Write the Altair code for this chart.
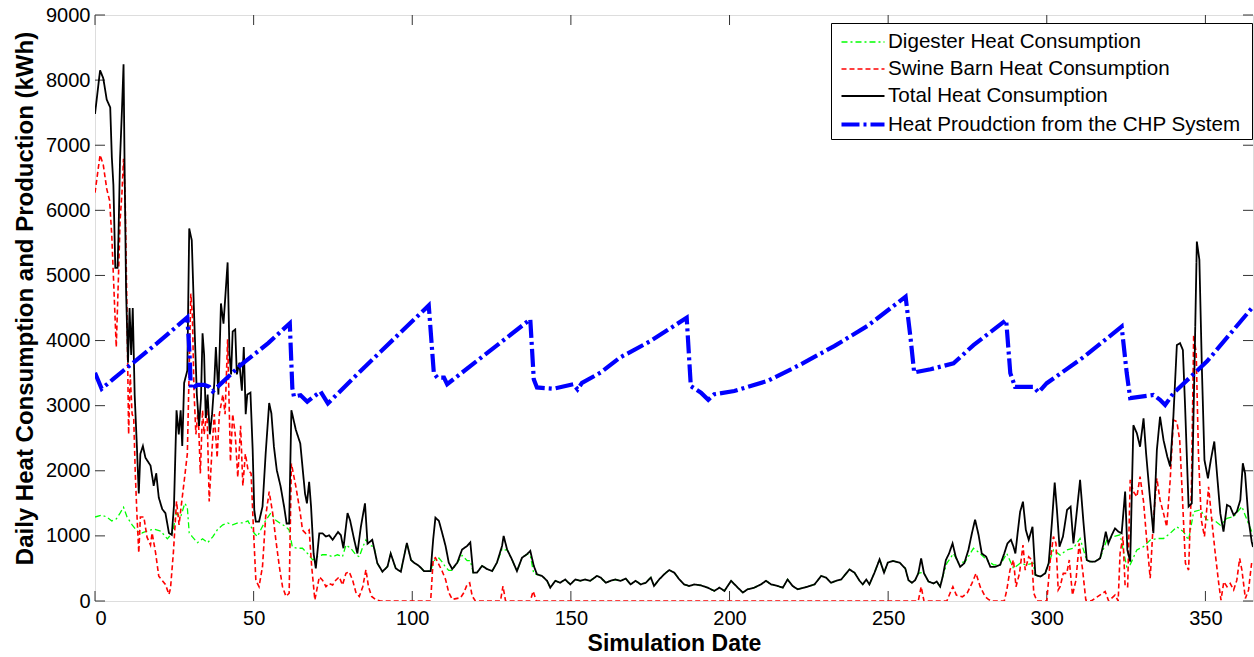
import altair as alt
import pandas as pd

# ---------------- data ----------------
total_days = [0, 1.6, 2.6, 3.7, 4.8, 5.3, 5.8, 6.4, 7.1, 7.4, 7.9, 8.5, 9.0, 9.3, 9.8, 10.4, 10.9, 11.4, 11.9, 12.5,
              13.2, 13.8, 14.3, 15.1, 15.9, 17.5, 18.5, 19.3, 20.1, 21.2, 22.2, 23.3, 24.2, 24.9, 25.7, 26.4, 27.0,
              27.5, 28.1, 29.1, 29.7, 30.5, 31.2, 32.1, 32.8, 33.4, 33.9, 34.4, 34.9, 35.5, 36.2, 36.9, 37.6, 38.1,
              38.9, 39.7, 40.5, 41.1, 41.8, 42.4, 42.9, 43.4, 44.2, 44.7, 45.5, 46.3, 46.9, 47.5, 48.0, 49.0,
              49.7, 50.2, 50.7, 51.7, 52.8, 53.8, 54.9, 55.6, 56.4, 57.3, 58.5, 59.6, 60.4, 61.2, 61.9, 63.3, 64.7,
              65.4, 66.2, 66.8, 67.5, 68.1, 68.9, 69.6, 70.7, 71.7, 72.8, 73.8, 74.9, 75.9, 76.6, 77.5, 78.3, 79.6,
              80.4, 81.7, 82.7, 83.8, 85.1, 85.9, 87.4, 89.0, 90.6, 92.2, 93.2, 94.8, 96.4, 98.3, 99.6,
              100.5, 102.1, 103.7, 105.8, 106.6, 107.3, 108.4, 109.4, 110.5, 111.5, 112.6, 114.2, 115.7, 117.3,
              118.3, 119.2, 120.4, 122.0, 123.6, 125.2, 126.7, 128.3, 128.8, 129.9, 131.4, 133.0, 134.6, 136.2,
              137.2, 138.3, 139.3, 140.9, 142.5, 143.5, 145.1, 146.6, 148.2, 149.8, 151.4, 153.0, 154.5, 156.1,
              158.2, 159.4, 161.0, 162.5, 164.1, 165.7, 167.3, 168.8, 170.4, 172.0, 173.6, 175.2, 176.2, 177.8,
              179.4, 181.0, 182.6, 184.2, 185.7, 187.3, 188.9, 191.0, 193.1, 195.2, 196.8, 198.4, 200.5, 202.6,
              204.2, 205.7, 207.8, 209.9, 211.5, 213.1, 215.2, 216.8, 218.3, 219.9, 221.5, 223.6, 225.2, 226.8,
              228.9, 230.4, 232.0, 233.6, 235.2, 237.8, 239.4, 241.0, 242.0, 243.1, 244.1, 245.7, 247.3, 248.7,
              249.9, 251.5, 253.6, 255.4, 256.4, 257.5, 258.5, 259.5, 260.4, 261.3, 262.7, 264.3, 265.3, 266.4,
              267.2, 268.2, 269.2, 270.3, 271.3, 272.7, 274.0, 275.3, 276.4, 277.4, 278.5, 279.5, 280.9, 282.2,
              283.7, 285.3, 286.6, 287.6, 288.7, 289.5, 290.1, 290.8, 291.6, 292.5, 293.4, 294.3, 295.5, 296.4,
              298.0, 299.5, 300.6, 301.6, 302.5, 303.2, 304.0, 305.1, 306.4, 307.5, 308.4, 309.4, 310.5, 311.5,
              312.6, 313.6, 315.2, 316.8, 317.8, 318.6, 319.4, 320.5, 321.5, 322.6, 323.6, 324.7, 325.4, 326.3,
              327.3, 328.4, 329.4, 330.5, 331.3, 332.4, 333.6, 334.7, 335.7, 336.8, 338.0, 338.9, 339.9, 341.0,
              342.0, 342.9, 343.6, 344.7, 345.7, 346.6, 347.3, 348.1, 348.9, 349.7, 350.8, 351.7, 352.8, 353.6,
              354.7, 355.7, 356.8, 357.8, 358.9, 359.9, 361.0, 361.8, 362.5, 363.6, 364.6, 365]
total_vals = [7480, 8150, 8030, 7700, 7580, 6820, 6390, 5115, 5115, 5600, 6800, 7545, 8245, 6800, 4750, 3660, 4500,
              3780, 4500, 3170, 2380, 1650, 2260, 2380, 2200, 2080, 1770, 1960, 1590, 1410, 1350, 1045, 1015, 1470,
              2930, 2560, 2930, 2380, 3350, 3540, 5720, 5540, 4450, 3170, 2690, 3110, 4110, 3780, 2810, 3170, 2560,
              2870, 3350, 3900, 3170, 4570, 4260, 4690, 5200, 3780, 3480, 4140, 4170, 3480, 3660, 3230, 3900, 2870,
              3170, 3200,
              2320, 1400, 1220, 1220, 1450, 2270, 3040, 2880, 2370, 2010, 1760, 1450, 1190, 1190, 2930, 2630, 2420,
              2060, 1650, 1500, 1830, 1450, 730, 500, 1040, 1040, 990, 1010, 940, 1010, 1060, 1010, 810, 1350,
              1240, 940, 730, 1140, 1500, 880, 940, 580, 450, 530, 730, 500, 450, 890, 630,
              590, 540, 460, 460, 950, 1280, 1230, 1050, 845, 590, 490, 590, 790, 845,
              900, 435, 435, 540, 490, 460, 590, 845, 1000, 790, 640, 460, 665, 720,
              770, 540, 410, 385, 310, 205, 310, 280, 330, 255, 330, 310, 330, 310,
              385, 360, 280, 310, 330, 310, 345, 255, 310, 255, 280, 360, 230, 330,
              410, 475, 435, 330, 255, 230, 255, 240, 205, 155, 205, 155, 310, 205,
              130, 180, 205, 255, 310, 255, 230, 205, 330, 230, 180, 205, 230, 255,
              385, 360, 280, 310, 330, 485, 435, 310, 255, 330, 255, 435, 640, 435,
              590, 615, 590, 500, 320, 280, 320, 425, 655, 425, 300, 270, 300, 220,
              375, 630, 730, 885, 680, 525, 580, 785, 1040, 1250, 1015, 730, 680, 525,
              525, 555, 730, 885, 940, 835, 730, 1040, 1370, 1525, 1090, 940, 1140, 400,
              375, 425, 580, 1195, 1820, 1400, 835, 990, 1400, 1450, 885, 1345, 1860, 1245,
              630, 605, 605, 655, 860, 1065, 885, 1015, 1115, 1065, 1040, 1680, 785, 605,
              2700, 2575, 2370, 2805, 2270, 1655, 1040, 2320, 2830, 2470, 2215, 2065, 2830, 3930,
              3960, 3855, 2985, 1450, 1500, 3700, 5520, 5240, 3550, 2165, 1885, 2165, 2450, 1985,
              1345, 1065, 1475, 1450, 1320, 1370, 1550, 2115, 1960, 1245, 910, 830]

swine_days = [0, 1.6, 2.6, 3.7, 4.6, 5.3, 6.0, 6.7, 7.4, 7.9, 8.5, 9.0, 9.5, 10.1, 10.6, 11.1, 11.7, 12.2, 12.7,
              13.2, 13.8, 14.3, 15.4, 16.4, 17.5, 18.0, 19.1, 20.1, 21.2, 22.2, 23.3, 23.8, 24.7, 25.7, 26.5, 27.2,
              28.1, 29.1, 30.2, 30.7, 31.2, 31.8, 32.5, 33.2, 33.9, 34.4, 35.3, 36.0, 36.8, 37.6, 38.5, 39.2, 40.3,
              41.0, 41.8, 42.7, 43.4, 44.2, 45.0, 45.9, 46.6, 47.4, 48.2, 49.2, 50.0, 50.7, 51.7, 52.8, 53.8, 54.9,
              56.0, 57.0, 58.1, 59.1, 60.2, 61.2, 61.9, 63.3, 64.7, 65.4, 66.4, 67.5, 68.3, 69.3, 70.7, 71.7, 72.8,
              73.8, 74.9, 75.9, 77.0, 78.0, 79.1, 80.1, 81.2, 82.3, 83.3, 84.4, 85.4, 86.2, 87.2, 88.6, 90, 105.8,
              106.6, 107.3, 108.4, 109.4, 110.5, 111.5, 112.6, 115.2, 116.3, 117.3, 118.1, 118.9, 119.9, 127.8,
              128.6, 129.4, 137.2, 138.1, 139.1, 259.5, 260.4, 261.3, 268.5, 269.5, 270.4, 271.5, 273.4, 274.9,
              276.4, 277.7, 279.0, 280.6, 281.6, 282.5, 286.6, 287.4, 288.4, 289.5, 290.3, 291.4, 292.5, 293.2,
              294.3, 295.3, 295.9, 296.9, 300.0, 301.1, 302.1, 302.9, 303.6, 304.2, 305.2, 306.3, 307.1, 308.1,
              309.2, 310.2, 311.3, 312.3, 314, 318.4, 319.5, 321.5, 322.5, 323.1, 324.0, 324.7, 325.5, 326.3,
              327.3, 328.4, 329.4, 330.5, 331.5, 332.6, 333.6, 334.7, 335.7, 336.8, 337.8, 338.9, 339.9, 341.0,
              341.9, 342.6, 343.7, 344.7, 345.6, 346.3, 347.1, 347.8, 348.7, 349.7, 351.0, 352.0, 353.1, 354.2,
              354.9, 355.8, 356.8, 357.8, 358.9, 359.9, 360.8, 361.5, 362.6, 363.6, 364.6]
swine_vals = [6270, 6850, 6700, 6330, 6150, 5600, 4750, 3900, 4990, 5840, 6270, 6790, 6210, 4390, 2560, 3480, 2870,
              2810, 1960, 1350, 740, 1290, 1290, 980, 860, 1045, 740, 380, 315, 255, 100, 195, 740, 1530, 1170, 1470,
              1835, 2260, 4720, 4390, 3230, 2560, 2930, 1960, 2930, 2560, 2930, 1530, 2260, 2870, 2200, 2870, 3170,
              2870, 4020, 2140, 2870, 2560, 1900, 2690, 1770, 2260, 2020, 1960, 1040, 320, 220, 530, 1300, 1680,
              1350, 940, 530, 220, 70, 120, 2110, 1760, 1350, 1090, 1040, 1090, 530, 15, 370, 320, 220,
              270, 245, 320, 370, 245, 425, 450, 320, 120, 70, 220, 480, 220, 70, 15, 0, 0,
              640, 665, 560, 460, 330, 130, 25, 50, 130, 255, 280, 75, 0, 0,
              230, 0, 0, 150, 0, 0, 220, 0, 0, 120, 220, 90, 65, 120,
              270, 425, 220, 65, 25, 0, 0, 170, 475, 630, 220, 425, 860, 475,
              680, 630, 120, 0, 0, 630, 990, 885, 170, 220, 425, 425, 630, 90,
              320, 885, 475, 15, 0, 145, 0, 90, 0, 730, 990, 220, 220, 1860,
              1680, 1600, 1910, 1525, 935, 350, 1245, 1885, 1550, 1345, 1140, 1860, 2780, 2755,
              2470, 1755, 580, 475, 1755, 4085, 3805, 2270, 1245, 990, 1755, 1245, 730, 270,
              15, 295, 220, 270, 170, 320, 655, 475, 40, 170, 600]

digester_days = [0, 2.1, 3.7, 5.3, 6.7, 7.9, 9.0, 10.1, 11.7, 13.2, 14.8, 16.4, 18.5, 20.7, 22.8, 24.4, 25.7, 27.0,
                 28.3, 29.1, 29.7, 30.7, 32.3, 33.9, 35.5, 37.1, 38.7, 40.3, 41.8, 43.4, 45.0, 46.6, 48.2, 49.2,
                 50.2, 51.2, 52.2, 53.8, 55.4, 57.0, 58.5, 60.2, 61.2, 62.2, 63.8, 65.4, 67.0, 68.6, 70.1, 71.7,
                 73.3, 74.9, 76.4, 78.0, 79.1, 80.6, 82.2, 83.3, 84.4, 85.4, 86.5, 88.0, 89.0, 90.6, 92.2, 93.2,
                 94.8, 96.4, 98.3, 99.6, 100.5, 102.1, 103.7, 105.8, 106.6, 107.3, 108.4, 109.4, 110.5, 111.5,
                 112.6, 114.2, 115.7, 117.3, 118.3, 119.2, 120.4, 122.0, 123.6, 125.2, 126.7, 128.3, 128.8, 129.9,
                 131.4, 133.0, 134.6, 136.2, 137.2, 138.3, 139.3, 140.9, 142.5, 143.5, 145.1, 146.6, 148.2, 149.8,
                 151.4, 153.0, 154.5, 156.1, 158.2, 159.4, 161.0, 162.5, 164.1, 165.7, 167.3, 168.8, 170.4, 172.0,
                 173.6, 175.2, 176.2, 177.8, 179.4, 181.0, 182.6, 184.2, 185.7, 187.3, 188.9, 191.0, 193.1, 195.2,
                 196.8, 198.4, 200.5, 202.6, 204.2, 205.7, 207.8, 209.9, 211.5, 213.1, 215.2, 216.8, 218.3, 219.9,
                 221.5, 223.6, 225.2, 226.8, 228.9, 230.4, 232.0, 233.6, 235.2, 237.8, 239.4, 241.0, 242.0, 243.1,
                 244.1, 245.7, 247.3, 248.7, 249.9, 251.5, 253.6, 255.4, 256.4, 257.5, 258.5, 259.5, 260.4, 261.3,
                 262.7, 264.3, 265.3, 266.4, 267.2, 268.5, 270.6, 272.2, 274.3, 276.9, 279.0, 281.1, 283.2, 285.3,
                 287.4, 289.5, 291.6, 293.6, 295.7, 296.4, 298.0, 299.5, 300.6, 302.1, 304.2, 306.3, 308.4, 310.5,
                 312.6, 314.7, 316.8, 318.9, 321.0, 323.1, 325.2, 326.3, 328.4, 330.5, 332.6, 334.7, 336.8, 338.9,
                 341.0, 343.1, 344.7, 346.3, 348.4, 350.5, 352.6, 354.7, 356.8, 358.9, 361.5, 363.1, 364.6]
digester_vals = [1290, 1320, 1290, 1230, 1260, 1350, 1440, 1290, 1170, 1075, 1045, 1075, 1105, 1075, 955, 1045, 1350,
                 1290, 1500, 1440, 1045, 985, 895, 955, 895, 985, 1105, 1170, 1200, 1170, 1200, 1200, 1230, 1140,
                 1040, 990, 1090, 1240, 1350, 1240, 1190, 1140, 1090, 830, 810, 810, 730, 630, 680, 710,
                 710, 680, 710, 680, 860, 810, 710, 680, 830, 940, 860, 830, 580, 450, 530, 730,
                 500, 450, 890, 630, 590, 540, 460, 460, 600, 640, 660, 600, 520, 470,
                 470, 590, 700, 620, 620, 435, 435, 540, 490, 460, 590, 800, 780, 790,
                 640, 460, 665, 720, 700, 420, 410, 385, 310, 205, 310, 280, 330, 255,
                 330, 310, 330, 310, 385, 360, 280, 310, 330, 310, 345, 255, 310, 255,
                 280, 360, 230, 330, 410, 475, 435, 330, 255, 230, 255, 240, 205, 155,
                 205, 155, 310, 205, 130, 180, 205, 255, 310, 255, 230, 205, 330, 230,
                 180, 205, 230, 255, 385, 360, 280, 310, 330, 485, 435, 310, 255, 330,
                 255, 435, 640, 435, 590, 615, 590, 500, 320, 280, 320, 425, 435, 425,
                 300, 270, 300, 220, 375, 580, 730, 580, 605, 810, 730, 630, 555, 555,
                 730, 500, 580, 555, 580, 400, 375, 425, 580, 785, 705, 785, 810, 960,
                 620, 600, 655, 935, 990, 1015, 525, 560, 785, 835, 935, 960, 960, 1040,
                 1140, 1065, 935, 1370, 1400, 1245, 1245, 1165, 1270, 1295, 1450, 1245, 1065]

chp_days = [0, 2.1, 5.8, 9, 19.6, 29.1, 29.8, 30.2, 32.3, 34.4, 36.0, 37.1, 46.1, 54.6, 61.4, 62.2, 62.7, 64.8,
            66.9, 69.0, 71.1, 73.4, 83.8, 90, 99, 105.2, 106.8, 107.9, 110, 111, 120, 130, 137.2, 138.3, 139.3,
            144.6, 150.8, 152.1, 153.5, 159.4, 165.5, 175, 186.5, 187.8, 191, 193.3, 195.2, 201.5, 212, 222.5,
            233, 243.5, 255.5, 257.1, 258.2, 263.4, 270.6, 276.9, 287.2, 288.5, 290, 295.8, 297.4, 300, 312,
            323.6, 325.2, 326.3, 333.6, 335.7, 337.3, 339.9, 350.5, 365]
chp_vals = [3505, 3260, 3410, 3540, 3960, 4356, 3800, 3260, 3320, 3320, 3290, 3220, 3630, 3960, 4265, 3270, 3140,
            3160, 3060, 3140, 3215, 3035, 3537, 3828, 4250, 4540, 3500, 3430, 3430, 3330, 3672, 4052, 4326, 3405,
            3280, 3260, 3330, 3250, 3350, 3510, 3740, 3990, 4350, 3300, 3200, 3090, 3175, 3225, 3380, 3635,
            3915, 4225, 4675, 4020, 3510, 3560, 3650, 3930, 4315, 3500, 3290, 3290, 3205, 3345, 3760,
            4215, 3500, 3115, 3165, 3090, 3010, 3190, 3680, 4520]

series_names = ["Digester Heat Consumption", "Swine Barn Heat Consumption",
                "Total Heat Consumption", "Heat Proudction from the CHP System"]
series_colors = ["#00ff00", "#ff0000", "#000000", "#0000ff"]
series_dash = [[6, 3, 2, 3], [5, 3], [1, 0], [18, 4, 3, 4]]
series_width = [1.3, 1.6, 1.8, 4.2]

x_ticks = [0, 50, 100, 150, 200, 250, 300, 350]
y_ticks = [0, 1000, 2000, 3000, 4000, 5000, 6000, 7000, 8000, 9000]

# ---------------- build table ----------------
frames = []
for name, d, v in [(series_names[0], digester_days, digester_vals),
                   (series_names[1], swine_days, swine_vals),
                   (series_names[2], total_days, total_vals),
                   (series_names[3], chp_days, chp_vals)]:
    frames.append(pd.DataFrame({"day": d, "value": v, "series": name}))
df = pd.concat(frames, ignore_index=True)

W, H = 1158, 586
FONT = "Liberation Sans"

xs = alt.Scale(domain=[0, 365], nice=False, zero=False)
ys = alt.Scale(domain=[0, 9000], nice=False)

base = alt.Chart(df).mark_line(clip=True, strokeCap="butt", strokeJoin="miter").encode(
    x=alt.X("day:Q", scale=xs,
            axis=alt.Axis(values=x_ticks, title="Simulation Date", grid=False, ticks=False,
                          domain=False, labelFontSize=20, labelPadding=7, format="d",
                          titleFontSize=23, titleFontWeight="bold", titlePadding=4,
                          labelColor="#000", titleColor="#000", labelFont=FONT, titleFont=FONT)),
    y=alt.Y("value:Q", scale=ys,
            axis=alt.Axis(values=y_ticks, title="Daily Heat Consumption and Production (kWh)",
                          grid=False, ticks=False, domain=False, labelFontSize=20, labelPadding=5,
                          format="d", titleY=283,
                          titleFontSize=24, titleFontWeight="bold", titlePadding=8,
                          labelColor="#000", titleColor="#000", labelFont=FONT, titleFont=FONT)),
    color=alt.Color("series:N", scale=alt.Scale(domain=series_names, range=series_colors),
                    legend=alt.Legend(title=" ", titleOrient="right", titleFontSize=6, titlePadding=8,
                                      orient="none", legendX=736, legendY=8,
                                      symbolType="M-0.667,0H2.2", symbolSize=900, labelFontSize=20.6,
                                      labelFont=FONT, labelColor="#000", strokeColor="#000",
                                      fillColor="#fff", padding=3, labelLimit=0, rowPadding=-1,
                                      labelOffset=19, cornerRadius=0)),
    strokeDash=alt.StrokeDash("series:N", scale=alt.Scale(domain=series_names, range=series_dash)),
    strokeWidth=alt.StrokeWidth("series:N",
                                scale=alt.Scale(type="ordinal", domain=series_names, range=series_width)),
    order=alt.Order("day:Q"),
)

layers = [base.transform_filter(alt.datum.series == s) for s in series_names]

tick_df = pd.DataFrame({"t": x_ticks})
ytick_df = pd.DataFrame({"t": y_ticks})
tick_color = "#333333"
bottom_ticks = alt.Chart(tick_df).mark_rule(color=tick_color, strokeWidth=1).encode(
    x=alt.X("t:Q", scale=xs), y=alt.value(H), y2=alt.value(H - 10))
top_ticks = alt.Chart(tick_df).mark_rule(color=tick_color, strokeWidth=1).encode(
    x=alt.X("t:Q", scale=xs), y=alt.value(0), y2=alt.value(10))
left_ticks = alt.Chart(ytick_df).mark_rule(color=tick_color, strokeWidth=1).encode(
    y=alt.Y("t:Q", scale=ys), x=alt.value(0), x2=alt.value(10))
right_ticks = alt.Chart(ytick_df).mark_rule(color=tick_color, strokeWidth=1).encode(
    y=alt.Y("t:Q", scale=ys), x=alt.value(W), x2=alt.value(W - 10))

chart = alt.layer(bottom_ticks, top_ticks, left_ticks, right_ticks, *layers).properties(
    width=W, height=H,
    autosize=alt.AutoSizeParams(type="none"),
    padding={"left": 95, "top": 15, "right": 1, "bottom": 56},
    background="#ffffff",
).configure_view(stroke="#000000", strokeWidth=1).configure(font=FONT)

chart.save("out.html", embed_options={"renderer": "svg", "actions": False})
